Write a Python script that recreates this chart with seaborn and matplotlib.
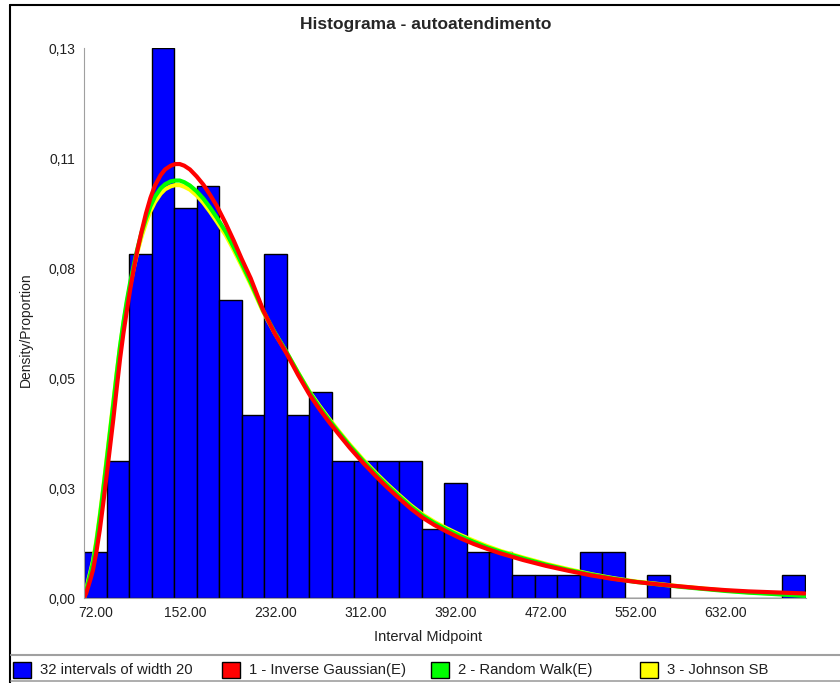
#!/usr/bin/env python3
"""Histogram of autoatendimento times with fitted distribution curves."""

import matplotlib
matplotlib.use("Agg")
import matplotlib.pyplot as plt
from matplotlib.lines import Line2D
from matplotlib.patches import Rectangle
import numpy as np
import pandas as pd
import seaborn as sns

# 32 intervals of width 20, midpoints 72 .. 692
midpoints = [72, 92, 112, 132, 152, 172, 192, 212, 232, 252, 272, 292, 312, 332, 352, 372,
             392, 412, 432, 452, 472, 492, 512, 532, 552, 572, 592, 612, 632, 652, 672, 692]
counts = [2, 6, 15, 24, 17, 18, 13, 8, 15, 8, 9, 6, 6, 6, 6, 3,
          5, 2, 2, 1, 1, 1, 2, 2, 0, 1, 0, 0, 0, 0, 0, 1]
bin_width = 20

# fitted curves
curve_x = [62, 64, 66, 68, 70, 73, 76, 79, 82, 85, 88, 91, 94, 97, 100, 103, 106, 109, 113,
           117, 121, 125, 130, 134, 139, 143, 147, 151, 156, 162, 168, 174, 180, 188, 195,
           202, 210, 221, 231, 242, 252, 262, 271, 280, 289, 298, 310, 323, 332, 342, 352,
           363, 373, 384, 396, 408, 420, 432, 452, 472, 492, 512, 532, 552, 572, 592, 612,
           632, 652, 672, 702]
inverse_gaussian = [0.0, 0.0012, 0.003, 0.0048, 0.0068, 0.0112, 0.0165, 0.0228, 0.0295,
                    0.0364, 0.0433, 0.0508, 0.058, 0.0642, 0.0696, 0.0748, 0.0795, 0.0838,
                    0.0887, 0.0932, 0.097, 0.1, 0.1025, 0.1039, 0.1048, 0.1052, 0.1052,
                    0.1048, 0.1039, 0.1022, 0.1002, 0.0977, 0.095, 0.0907, 0.0866, 0.0822,
                    0.0775, 0.0698, 0.0643, 0.0592, 0.0541, 0.0494, 0.0458, 0.0425, 0.0394,
                    0.0364, 0.0327, 0.029, 0.0266, 0.0241, 0.0217, 0.0194, 0.0177, 0.0161,
                    0.0145, 0.0131, 0.0119, 0.0108, 0.0092, 0.0078, 0.0066, 0.0055, 0.0046,
                    0.0039, 0.0033, 0.0028, 0.0023, 0.0019, 0.0016, 0.0014, 0.0011]
random_walk = [0.0, 0.0018, 0.004, 0.0062, 0.0085, 0.0135, 0.0195, 0.026, 0.033, 0.04,
               0.047, 0.0542, 0.061, 0.0668, 0.072, 0.0765, 0.0805, 0.0842, 0.0885, 0.092,
               0.095, 0.0973, 0.0993, 0.1003, 0.101, 0.1012, 0.1012, 0.1008, 0.1, 0.0986,
               0.0968, 0.0946, 0.0922, 0.0887, 0.085, 0.0811, 0.0765, 0.0697, 0.0645, 0.0595,
               0.0546, 0.0499, 0.0463, 0.0430, 0.0399, 0.0369, 0.0332, 0.0295, 0.0271, 0.0246,
               0.0222, 0.0199, 0.0182, 0.0166, 0.015, 0.0136, 0.0123, 0.0112, 0.0096, 0.0081,
               0.0068, 0.0057, 0.0047, 0.0039, 0.0033, 0.0027, 0.0022, 0.0017, 0.0013, 0.001,
               0.0005]
johnson_sb = [0.0, 0.002, 0.0045, 0.0067, 0.009, 0.014, 0.02, 0.0265, 0.0335, 0.0405,
              0.0475, 0.0545, 0.061, 0.0666, 0.0715, 0.0758, 0.0798, 0.0834, 0.0875, 0.0909,
              0.0938, 0.096, 0.098, 0.0991, 0.0998, 0.1001, 0.1001, 0.0997, 0.099, 0.0976,
              0.0958, 0.0936, 0.0912, 0.0879, 0.0843, 0.0805, 0.076, 0.0694, 0.0644, 0.0595,
              0.0547, 0.0501, 0.0466, 0.0433, 0.0402, 0.0372, 0.0335, 0.0298, 0.0274, 0.0249,
              0.0225, 0.0202, 0.0185, 0.0169, 0.0153, 0.0139, 0.0126, 0.0114, 0.0098, 0.0083,
              0.007, 0.0058, 0.0048, 0.004, 0.0034, 0.0028, 0.0023, 0.0018, 0.0014, 0.0011,
              0.0007]

x_ticks = [72, 152, 232, 312, 392, 472, 552, 632]
y_tick_labels = ["0,00", "0,03", "0,05", "0,08", "0,11", "0,13"]
legend_labels = ["32 intervals of width 20", "1 - Inverse Gaussian(E)",
                 "2 - Random Walk(E)", "3 - Johnson SB"]
legend_colors = ["#0000FF", "#FF0000", "#00FF00", "#FFFF00"]

W, H = 840, 683


def main():
    sns.set_style("white")
    plt.rcParams["font.family"] = ["Liberation Sans", "DejaVu Sans"]

    total = sum(counts)
    df = pd.DataFrame({"mid": midpoints, "prop": np.array(counts) / total})
    edges = [midpoints[0] - bin_width / 2 + bin_width * i for i in range(len(midpoints) + 1)]
    ymax = max(counts) / total

    fig = plt.figure(figsize=(W / 100, H / 100), dpi=100)
    ax = fig.add_axes([84 / W, 1 - 598 / H, (806 - 84) / W, (598 - 48) / H])

    sns.histplot(data=df, x="mid", weights="prop", bins=edges, color="#0000FF",
                 edgecolor="black", linewidth=1.0, alpha=1, ax=ax)

    curves = pd.DataFrame({"x": curve_x, "ig": inverse_gaussian,
                           "rw": random_walk, "jsb": johnson_sb})
    line_kw = dict(lw=3, solid_joinstyle="round", solid_capstyle="round", ax=ax)
    sns.lineplot(data=curves, x="x", y="jsb", color="#FFFF00", **line_kw)
    sns.lineplot(data=curves, x="x", y="rw", color="#00FF00", **line_kw)
    sns.lineplot(data=curves, x="x", y="ig", color="#FF0000", **line_kw)

    ax.set_xlim(edges[0], edges[-1] + 1)
    ax.set_ylim(0, ymax)
    ax.set_xticks(x_ticks)
    ax.set_xticklabels([f"{v:.2f}" for v in x_ticks])
    ax.set_yticks(np.linspace(0, ymax, 6))
    ax.set_yticklabels(y_tick_labels)
    ax.tick_params(axis="both", direction="out", length=4, color="#a0a0a0",
                   labelsize=10, labelcolor="#202020", pad=2)
    ax.set_xlabel("")
    ax.set_ylabel("")
    for side in ["top", "right"]:
        ax.spines[side].set_visible(False)
    ax.spines["left"].set_color("#a0a0a0")
    ax.spines["bottom"].set_color("#a0a0a0")

    fig.text(426 / W, 1 - 25 / H, "Histograma - autoatendimento", ha="center",
             va="center", fontsize=12.5, fontweight="bold")
    fig.text(428 / W, 1 - 637 / H, "Interval Midpoint", ha="center", va="center",
             fontsize=10.5, color="#202020")
    fig.text(26 / W, 1 - 330 / H, "Density/Proportion", ha="center", va="center",
             rotation=90, fontsize=10, color="#202020")

    # outer frame and legend strip
    fig.add_artist(Line2D([10 / W, 10 / W], [0, 1 - 5 / H], color="black", lw=1.5))
    fig.add_artist(Line2D([10 / W, 1], [1 - 5 / H, 1 - 5 / H], color="black", lw=1.5))
    fig.add_artist(Line2D([11 / W, 1], [1 - 655 / H, 1 - 655 / H], color="#a0a0a0", lw=1.5))
    fig.add_artist(Line2D([11 / W, 1], [1 - 681 / H, 1 - 681 / H], color="#a0a0a0", lw=1.2))

    for i, (label, color) in enumerate(zip(legend_labels, legend_colors)):
        x0 = 13 + 209 * i
        fig.add_artist(Rectangle((x0 / W, 1 - 678 / H), 18 / W, 16 / H, facecolor=color,
                                 edgecolor="black", lw=1.0, transform=fig.transFigure))
        fig.text((x0 + 27) / W, 1 - 670 / H, label, ha="left", va="center",
                 fontsize=10.7, color="#202020")

    fig.savefig("out.png", dpi=100)
    plt.close(fig)


if __name__ == "__main__":
    main()
